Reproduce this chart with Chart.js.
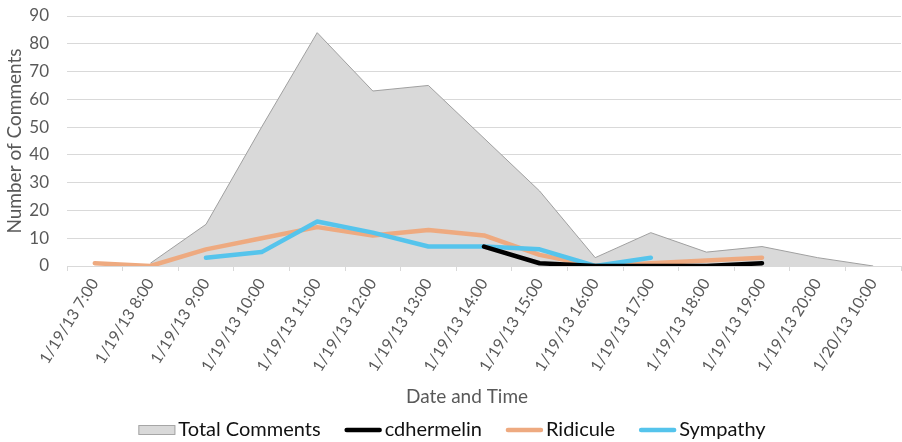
<!DOCTYPE html>
<html>
<head>
<meta charset="utf-8">
<script src="https://cdn.jsdelivr.net/npm/chart.js@4/dist/chart.umd.min.js"></script>
<style>
  html, body { margin: 0; padding: 0; background: #fff; }
  #wrap { width: 902px; height: 442px; }
</style>
</head>
<body>
<div id="wrap"><canvas id="c" width="902" height="442"></canvas></div>
<script>
// Hourly comment counts
const timeLabels = [
  '1/19/13 7:00', '1/19/13 8:00', '1/19/13 9:00', '1/19/13 10:00', '1/19/13 11:00',
  '1/19/13 12:00', '1/19/13 13:00', '1/19/13 14:00', '1/19/13 15:00', '1/19/13 16:00',
  '1/19/13 17:00', '1/19/13 18:00', '1/19/13 19:00', '1/19/13 20:00', '1/20/13 10:00'
];
const totalComments = [null, 1, 15, 50, 84, 63, 65, 46, 27, 3, 12, 5, 7, 3, 0];
const cdhermelin    = [null, null, null, null, null, null, null, 7, 1, 0, 0, 0, 1, null, null];
const ridicule      = [1, 0, 6, 10, 14, 11, 13, 11, 4, 0, 1, 2, 3, null, null];
const sympathy      = [null, null, 3, 5, 16, 12, 7, 7, 6, 0, 3, null, null, null, null];
const yTicks = [0, 10, 20, 30, 40, 50, 60, 70, 80, 90];

const FONT = 'Lato, "Open Sans", sans-serif';
const GREY_TEXT = '#595959';

const legendItems = [
  { text: 'Total Comments', kind: 'box',  color: '#d9d9d9', border: '#a6a6a6' },
  { text: 'cdhermelin',     kind: 'line', color: '#000000' },
  { text: 'Ridicule',       kind: 'line', color: '#eeaa80' },
  { text: 'Sympathy',       kind: 'line', color: '#55c4ec' }
];

// X axis title and legend drawn below the rotated tick labels
const bottomLegend = {
  id: 'bottomLegend',
  afterDraw(chart) {
    const ctx = chart.ctx;
    ctx.save();
    ctx.textBaseline = 'middle';
    ctx.textAlign = 'center';
    ctx.fillStyle = GREY_TEXT;
    ctx.font = '19px ' + FONT;
    ctx.fillText('Date and Time', 467, 397);

    ctx.font = '20px ' + FONT;
    const y = 430;
    const symW = 37, gapSym = 3, gapItem = 24;
    let total = 0;
    const widths = legendItems.map(it => ctx.measureText(it.text).width);
    widths.forEach((w, i) => { total += symW + gapSym + w + (i < widths.length - 1 ? gapItem : 0); });
    let x = 452 - total / 2;
    legendItems.forEach((it, i) => {
      if (it.kind === 'box') {
        ctx.fillStyle = it.color;
        ctx.fillRect(x, y - 4.5, symW, 9);
        ctx.strokeStyle = it.border;
        ctx.lineWidth = 1;
        ctx.strokeRect(x + 0.5, y - 4.5, symW - 1, 9);
      } else {
        ctx.strokeStyle = it.color;
        ctx.lineWidth = 4.5;
        ctx.lineCap = 'round';
        ctx.beginPath();
        ctx.moveTo(x + 2, y);
        ctx.lineTo(x + symW - 2, y);
        ctx.stroke();
      }
      ctx.fillStyle = '#111';
      ctx.textAlign = 'left';
      ctx.fillText(it.text, x + symW + gapSym, y);
      x += symW + gapSym + widths[i] + gapItem;
    });
    ctx.restore();
  }
};

const lineStyle = (color, width) => ({
  borderColor: color,
  backgroundColor: color,
  borderWidth: width,
  borderCapStyle: 'round',
  borderJoinStyle: 'round',
  pointRadius: 0,
  pointHoverRadius: 0,
  tension: 0,
  fill: false,
  spanGaps: false
});

new Chart(document.getElementById('c'), {
  type: 'line',
  data: {
    labels: timeLabels,
    datasets: [
      Object.assign({ label: 'Total Comments', data: totalComments, order: 3 },
        lineStyle('#a0a0a0', 1), { backgroundColor: '#d9d9d9', fill: 'origin', borderCapStyle: 'butt' }),
      Object.assign({ label: 'cdhermelin', data: cdhermelin, order: 0 }, lineStyle('#000000', 4.5)),
      Object.assign({ label: 'Ridicule', data: ridicule, order: 2 }, lineStyle('#eeaa80', 4.5)),
      Object.assign({ label: 'Sympathy', data: sympathy, order: 1 }, lineStyle('#55c4ec', 4.5))
    ]
  },
  options: {
    responsive: false,
    animation: false,
    devicePixelRatio: 1,
    layout: { padding: { left: 0, right: 1, top: 16, bottom: 33 } },
    plugins: {
      legend: { display: false },
      tooltip: { enabled: false }
    },
    scales: {
      x: {
        offset: true,
        grid: {
          offset: true,
          drawOnChartArea: false,
          drawTicks: true,
          tickLength: 5,
          color: '#d9d9d9'
        },
        border: { display: true, color: '#d9d9d9', width: 1 },
        ticks: {
          autoSkip: false,
          minRotation: 58,
          maxRotation: 58,
          padding: 4,
          color: GREY_TEXT,
          font: { family: FONT, size: 16 }
        },
        afterFit(scale) { scale.height = 143; }
      },
      y: {
        min: 0,
        max: 90,
        afterBuildTicks(scale) { scale.ticks = yTicks.map(v => ({ value: v })); },
        grid: { color: '#d9d9d9', drawTicks: false },
        border: { display: false },
        ticks: {
          padding: 18,
          color: GREY_TEXT,
          font: { family: FONT, size: 17 }
        },
        title: {
          display: true,
          text: 'Number of Comments',
          color: GREY_TEXT,
          font: { family: FONT, size: 19 },
          padding: { top: 3, bottom: 0 }
        },
        afterFit(scale) {
          scale.width = 67;
          scale.paddingTop = 0;
          scale.paddingBottom = 0;
        }
      }
    }
  },
  plugins: [bottomLegend]
});
</script>
</body>
</html>
